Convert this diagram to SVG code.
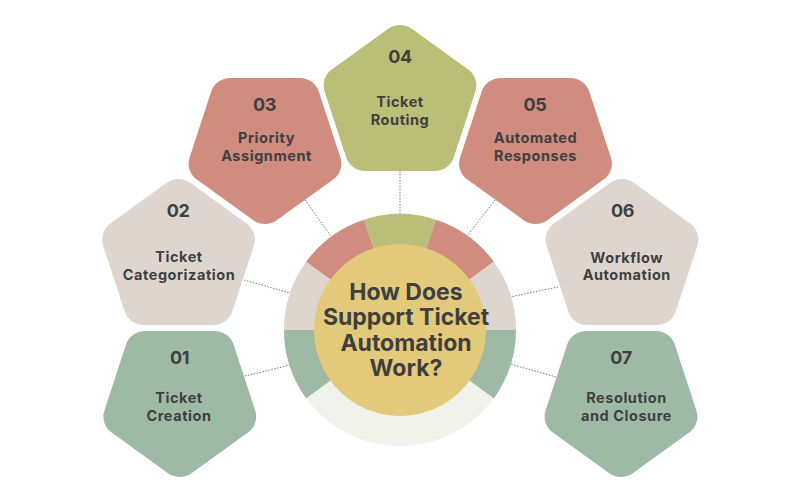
<svg xmlns="http://www.w3.org/2000/svg" xmlns:xlink="http://www.w3.org/1999/xlink" width="800" height="500" viewBox="0 0 800 500">
<style>
text{font-family:"Inter","Liberation Sans",sans-serif;font-weight:700;fill:#3f3f3f;text-anchor:middle}
.num{font-size:18px;letter-spacing:-.4px}
.lbl{font-size:14.5px;letter-spacing:.55px}
.title{font-size:23px}
.conn{stroke:#777;stroke-width:1;stroke-dasharray:1.5 1.5;fill:none}
.green{fill:#9fbaa4}.beige{fill:#ded6ce}.red{fill:#cf8c7f}.olive{fill:#bbbe77}
</style>
<defs>
<path id="pent" d="M11.76,-75.46 L68.13,-34.5 A20,20 0 0 1 75.4,-12.14 L53.86,54.14 A20,20 0 0 1 34.84,67.96 L-34.84,67.96 A20,20 0 0 1 -53.86,54.14 L-75.4,-12.14 A20,20 0 0 1 -68.13,-34.5 L-11.76,-75.46 A20,20 0 0 1 11.76,-75.46 Z"/>
</defs>
<rect width="800" height="500" fill="#ffffff"/>
<g id="connectors" class="conn">
<line x1="245" y1="376" x2="290" y2="365"/>
<line x1="244" y1="280" x2="290" y2="293"/>
<line x1="305" y1="200" x2="331" y2="236"/>
<line x1="400" y1="171" x2="400" y2="214"/>
<line x1="495" y1="200" x2="467" y2="236"/>
<line x1="558" y1="287" x2="510" y2="297"/>
<line x1="556" y1="377" x2="510" y2="364"/>
</g>
<g id="ring">
<circle cx="400" cy="330" r="116" fill="#f1f2ea"/>
<path class="green" d="M400,330 L284,330 A116,116 0 0 0 306.15,398.18 Z"/>
<path class="beige" d="M400,330 L306.15,261.82 A116,116 0 0 0 284,330 Z"/>
<path class="red" d="M400,330 L364.15,219.68 A116,116 0 0 0 306.15,261.82 Z"/>
<path class="olive" d="M400,330 L435.85,219.68 A116,116 0 0 0 364.15,219.68 Z"/>
<path class="red" d="M400,330 L493.85,261.82 A116,116 0 0 0 435.85,219.68 Z"/>
<path class="beige" d="M400,330 L516,330 A116,116 0 0 0 493.85,261.82 Z"/>
<path class="green" d="M400,330 L493.85,398.18 A116,116 0 0 0 516,330 Z"/>
</g>
<g id="node-01">
<use xlink:href="#pent" href="#pent" class="green" transform="translate(179.8 398.35) rotate(180) scale(1 .991)"/>
<text class="num" x="179.5" y="364">01</text>
<text class="lbl" x="179" y="403">Ticket</text>
<text class="lbl" x="179" y="420.5">Creation</text>
</g>
<g id="node-02">
<use xlink:href="#pent" href="#pent" class="beige" transform="translate(178.5 257.65) scale(1 .991)"/>
<text class="num" x="178" y="217">02</text>
<text class="lbl" x="179" y="262">Ticket</text>
<text class="lbl" x="179" y="279.5">Categorization</text>
</g>
<g id="node-03">
<use xlink:href="#pent" href="#pent" class="red" transform="translate(265 145.35) rotate(180) scale(1 .991)"/>
<text class="num" x="264.5" y="110.5">03</text>
<text class="lbl" x="266.5" y="143">Priority</text>
<text class="lbl" x="266.5" y="160.5">Assignment</text>
</g>
<g id="node-04">
<use xlink:href="#pent" href="#pent" class="olive" transform="translate(400 103.65) scale(1 .991)"/>
<text class="num" x="400" y="63">04</text>
<text class="lbl" x="400" y="107">Ticket</text>
<text class="lbl" x="400" y="124.5">Routing</text>
</g>
<g id="node-05">
<use xlink:href="#pent" href="#pent" class="red" transform="translate(535.5 145.35) rotate(180) scale(1 .991)"/>
<text class="num" x="535" y="110.5">05</text>
<text class="lbl" x="535.5" y="143">Automated</text>
<text class="lbl" x="535.5" y="160.5">Responses</text>
</g>
<g id="node-06">
<use xlink:href="#pent" href="#pent" class="beige" transform="translate(622 257.65) scale(1 .991)"/>
<text class="num" x="622.5" y="217">06</text>
<text class="lbl" x="626.8" y="262.5">Workflow</text>
<text class="lbl" x="626.8" y="280">Automation</text>
</g>
<g id="node-07">
<use xlink:href="#pent" href="#pent" class="green" transform="translate(621 398.35) rotate(180) scale(1 .991)"/>
<text class="num" x="621" y="364">07</text>
<text class="lbl" x="626.5" y="403">Resolution</text>
<text class="lbl" x="626.5" y="420.5">and Closure</text>
</g>
<g id="center">
<circle cx="400" cy="330" r="86" fill="#e3c97a"/>
<text class="title"><tspan x="406" y="299.5">How Does</tspan><tspan x="406" y="325">Support Ticket</tspan><tspan x="406" y="350.5">Automation</tspan><tspan x="406" y="376">Work?</tspan></text>
</g>
</svg>
